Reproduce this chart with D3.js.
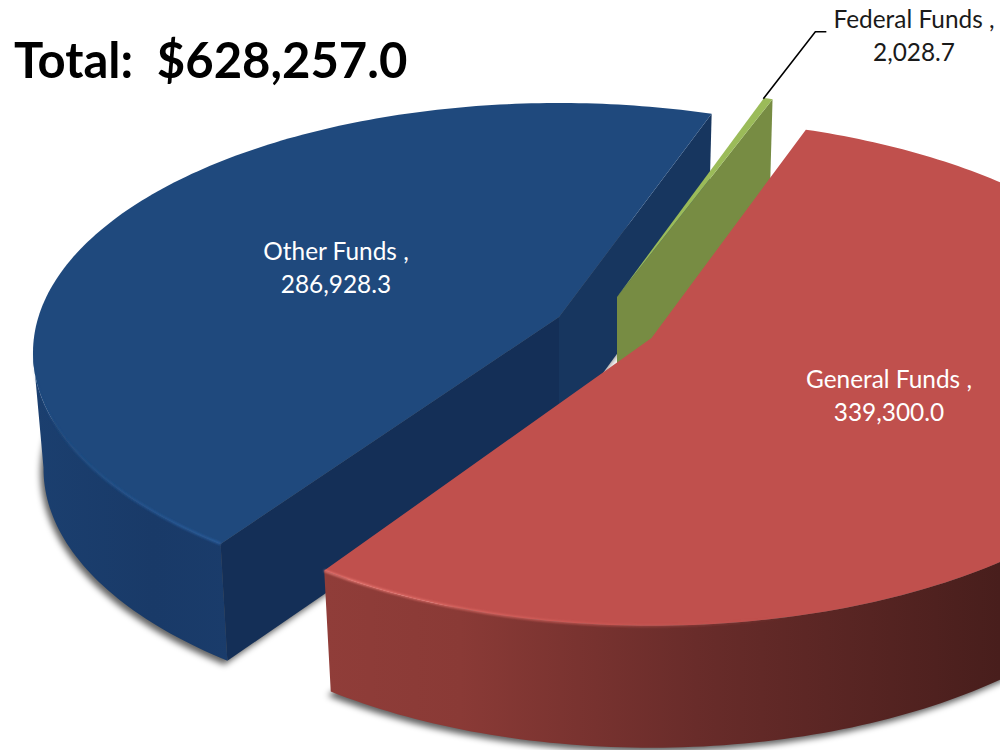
<!DOCTYPE html>
<html><head><meta charset="utf-8">
<script src="https://cdnjs.cloudflare.com/ajax/libs/d3/7.8.5/d3.min.js"></script>
<style>html,body{margin:0;padding:0;background:#fff;overflow:hidden}svg{display:block}text{font-family:Lato,Carlito,sans-serif;white-space:pre}</style>
</head><body><svg id="c" width="1000" height="750" viewBox="0 0 1000 750"></svg>
<script>
// ---- data ----
const categories = ["General Funds", "Other Funds", "Federal Funds"];
const values = [339300.0, 286928.3, 2028.7];
const totalLabel = "Total:  $628,257.0";

// ---- style / layout ----
const topColors = ["#c0504d", "#1f497d", "#9bbb59"];
const origins = [[651.5, 338], [559, 317], [617, 297]];   // exploded slice apex
const twist = [0, -1.1, -1.1];                            // degrees
const radii = [1, 1, 0.95];
const spanX = [521, 520.6, 521];
const spanY = [249, 244.6, 249];
const persp = [0.1345, 0.143, 0.1345];
const depthSkew = [6, 1, 6];
const labelPos = [[889, 388], [336, 260], [914, 28]];
const labelFill = ["#fff", "#fff", "#1a1a1a"];

const START = 19.5;
const rad = Math.PI / 180;
const fmt = d3.format(",.1f");

const svg = d3.select("#c");
const defs = svg.append("defs");
defs.append("filter").attr("id", "sh").attr("x", "-10%").attr("y", "-10%").attr("width", "120%").attr("height", "120%")
  .append("feGaussianBlur").attr("stdDeviation", 3.2);
defs.append("filter").attr("id", "rimblur").append("feGaussianBlur").attr("stdDeviation", 0.8);

function grad(id, x1, x2, stops) {
  const g = defs.append("linearGradient").attr("id", id).attr("gradientUnits", "userSpaceOnUse")
    .attr("x1", x1).attr("x2", x2).attr("y1", 0).attr("y2", 0);
  stops.forEach(s => g.append("stop").attr("offset", s[0]).attr("stop-color", s[1])
    .attr("stop-opacity", s[2] === undefined ? 1 : s[2]));
}
grad("redWall", 325, 1000, [[0, "#903d39"], [0.2, "#8a3a36"], [0.55, "#692c2a"], [1, "#481e1c"]]);
grad("blueWall", 35, 232, [[0, "#1b3f6f"], [0.6, "#193a68"], [1, "#1a3c6b"]]);
grad("redRim", 325, 800, [[0, "#f0807a"], [0.5, "#d9625d", 0.8], [1, "#c0504d", 0]]);
grad("blueRim", 30, 225, [[0, "#225088", 0], [0.25, "#225088"], [0.6, "#275a98"], [1, "#2c62a6"]]);

const pie = d3.pie().sort(null).value(d => d)
  .startAngle(START * rad).endAngle((START + 360) * rad);
const arcs = pie(values);

// plane-to-screen perspective
function project(i, theta, r, z) {
  const X = r * Math.cos(theta), Y = r * Math.sin(theta), w = 1 + persp[i] * Y;
  const [ox, oy] = origins[i];
  return [ox + spanX[i] * X / w * (1 - 0.02 * z), oy - spanY[i] * Y / w + z * (116 - depthSkew[i] * Y)];
}
const thetaOf = (i, pa) => Math.PI / 2 - pa + twist[i] * rad;
function arcPts(i, t0, t1, z) {
  const n = Math.max(2, Math.ceil(Math.abs(t1 - t0) / rad));
  return d3.range(n + 1).map(k => project(i, t0 + (t1 - t0) * k / n, radii[i], z));
}
const line = d3.line();
const closed = p => line(p) + "Z";

const chart = svg.append("g");
const shadow = chart.append("g").attr("filter", "url(#sh)").attr("transform", "translate(-3,4)");

// draw order: blue, green, red
[1, 2, 0].forEach(i => {
  const a = arcs[i];
  const t0 = thetaOf(i, a.startAngle), t1 = thetaOf(i, a.endAngle);
  const apexT = project(i, 0, 0, 0), apexB = project(i, 0, 0, 1);
  const topPts = arcPts(i, t0, t1, 0);
  const botPts = arcPts(i, t0, t1, 1);
  const first = topPts[0], last = topPts[topPts.length - 1];
  const firstB = botPts[0], lastB = botPts[botPts.length - 1];

  if (i !== 2) {
    shadow.append("path").attr("d", closed([apexB, ...botPts])).attr("fill", "#000").attr("opacity", 0.62);
  }

  if (i === 1) {
    // blue: outer wall on the left, plus both visible cut faces
    const wa = t0, wb = -172 * rad;
    const top = arcPts(i, wa, wb, 0), bot = arcPts(i, wa, wb, 1);
    chart.append("path").attr("d", closed([...top, ...bot.reverse()])).attr("fill", "url(#blueWall)");
    chart.append("path").attr("d", closed([apexT, first, firstB, apexB])).attr("fill", "#142f57");
    chart.append("path").attr("d", closed([apexT, last, lastB, apexB])).attr("fill", "#17365f");
  } else if (i === 2) {
    // green: right cut face only
    chart.append("path").attr("d", closed([apexT, last, lastB, apexB])).attr("fill", "#778c43");
  } else {
    // red: outer wall, near part only
    const wb = t1, wa = 20 * rad;
    const top = arcPts(i, wa, wb, 0), bot = arcPts(i, wa, wb, 1);
    chart.append("path").attr("d", closed([...top, ...bot.reverse()])).attr("fill", "url(#redWall)");
  }
  chart.append("path").attr("d", closed([apexT, ...topPts])).attr("fill", topColors[i]);

  if (i === 1) {
    chart.append("path").attr("d", line(arcPts(i, t0, -172 * rad, 0))).attr("fill", "none")
      .attr("stroke", "url(#blueRim)").attr("stroke-width", 1.8).attr("filter", "url(#rimblur)");
  }
  if (i === 0) {
    chart.append("path").attr("d", line(arcPts(i, t1, -75 * rad, 0))).attr("fill", "none")
      .attr("stroke", "url(#redRim)").attr("stroke-width", 2).attr("filter", "url(#rimblur)");
  }
});

// leader line for the smallest slice
const gi = 2;
const tip = project(gi, thetaOf(gi, arcs[gi].startAngle), radii[gi] * 0.995, 0);
const elbow = [tip[0] + 52, tip[1] - 67];
chart.append("path").attr("d", line([tip, elbow, [elbow[0] + 11, elbow[1]]]))
  .attr("fill", "none").attr("stroke", "#000").attr("stroke-width", 1.6);

// labels
const labelSize = 24.4;
categories.forEach((c, i) => {
  const t = svg.append("text").attr("x", labelPos[i][0]).attr("text-anchor", "middle")
    .attr("font-size", labelSize).attr("fill", labelFill[i]);
  t.append("tspan").attr("x", labelPos[i][0]).attr("y", labelPos[i][1]).text(c + " ,");
  t.append("tspan").attr("x", labelPos[i][0]).attr("y", labelPos[i][1] + 33).text(fmt(values[i]));
});
svg.append("text").attr("x", 14).attr("y", 78).attr("font-size", 49).attr("font-weight", 700)
  .attr("fill", "#000").text(totalLabel);
</script></body></html>
